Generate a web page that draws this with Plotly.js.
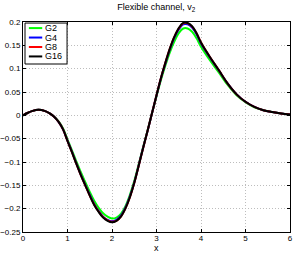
<!DOCTYPE html>
<html>
<head>
<meta charset="utf-8">
<script src="https://cdn.plot.ly/plotly-3.0.1.min.js"></script>
<style>html,body{margin:0;padding:0;background:#fff;}#chart{width:295px;height:254px;}</style>
</head>
<body>
<div id="chart"></div>
<script>
const xs = [0,0.1,0.2,0.35,0.5,0.6,0.7,0.8,0.9,1.0,1.1,1.2,1.3,1.4,1.5,1.6,1.7,1.8,1.9,2.0,2.1,2.2,2.3,2.4,2.5,2.6,2.7,2.8,2.9,3.0,3.1,3.2,3.3,3.4,3.5,3.6,3.7,3.8,3.9,4.0,4.2,4.4,4.6,4.8,5.0,5.2,5.4,5.6,5.8,6.0];
const g2 = [0,0.005,0.009,0.012,0.009,0.004,-0.003,-0.013,-0.028,-0.052,-0.075,-0.099,-0.122,-0.143,-0.164,-0.183,-0.198,-0.210,-0.217,-0.221,-0.219,-0.211,-0.195,-0.171,-0.141,-0.105,-0.068,-0.032,0.005,0.041,0.076,0.107,0.135,0.158,0.176,0.186,0.186,0.179,0.165,0.147,0.118,0.092,0.065,0.043,0.028,0.017,0.011,0.007,0.004,0.002];
const g4 = [0,0.005,0.009,0.012,0.009,0.004,-0.003,-0.014,-0.03,-0.054,-0.078,-0.103,-0.127,-0.149,-0.17,-0.19,-0.205,-0.217,-0.224,-0.227,-0.224,-0.215,-0.198,-0.174,-0.144,-0.107,-0.069,-0.033,0.005,0.042,0.079,0.111,0.141,0.166,0.184,0.195,0.195,0.188,0.174,0.154,0.124,0.096,0.068,0.045,0.029,0.018,0.011,0.007,0.004,0.002];
const g8 = [0,0.005,0.009,0.012,0.009,0.004,-0.003,-0.014,-0.03,-0.055,-0.079,-0.104,-0.128,-0.15,-0.172,-0.191,-0.206,-0.218,-0.225,-0.228,-0.226,-0.217,-0.2,-0.176,-0.145,-0.108,-0.07,-0.033,0.005,0.043,0.08,0.113,0.143,0.168,0.186,0.197,0.197,0.19,0.176,0.156,0.125,0.097,0.068,0.045,0.029,0.018,0.011,0.007,0.004,0.002];
const g16 = [0,0.005,0.009,0.012,0.009,0.004,-0.003,-0.014,-0.03,-0.055,-0.079,-0.104,-0.128,-0.15,-0.172,-0.192,-0.207,-0.219,-0.226,-0.229,-0.226,-0.217,-0.2,-0.176,-0.145,-0.108,-0.07,-0.033,0.005,0.043,0.08,0.113,0.143,0.168,0.187,0.198,0.198,0.191,0.176,0.156,0.125,0.097,0.068,0.045,0.029,0.018,0.011,0.007,0.004,0.002];
const seriesNames = ['G2','G4','G8','G16'];
const seriesColors = ['#00ff00','#0000ff','#ff0000','#000000'];
const seriesData = [g2,g4,g8,g16];
const xTicks = [0,1,2,3,4,5,6];
const yTicks = [-0.25,-0.2,-0.15,-0.1,-0.05,0,0.05,0.1,0.15,0.2];

const FAM = 'Liberation Sans, Arial, sans-serif';
const traces = seriesData.map((ys,i)=>({
  x: xs, y: ys, type:'scatter', mode:'lines', name: seriesNames[i], showlegend:false,
  line:{color: seriesColors[i], width:2, shape:'spline', smoothing:1}
}));

// legend drawn in paper coordinates (box, line samples, labels)
const shapes = [{type:'rect', xref:'paper', yref:'paper', x0:0.0075, x1:0.165, y0:0.80, y1:0.995,
  fillcolor:'#fff', line:{color:'#000', width:1}, layer:'above'}];
const annotations = [];
const legTop = 0.971, legStep = 0.045;
seriesNames.forEach((n,i)=>{
  const yy = legTop - i*legStep;
  shapes.push({type:'line', xref:'paper', yref:'paper', x0:0.022, x1:0.072, y0:yy, y1:yy,
    line:{color:seriesColors[i], width:2}, layer:'above'});
  annotations.push({xref:'paper', yref:'paper', x:0.076, y:yy, xanchor:'left', yanchor:'middle',
    text:n, showarrow:false, font:{family:FAM, size:9, color:'#000'}});
});
annotations.push({xref:'paper', yref:'paper', x:0.5, y:-0.078, xanchor:'center', yanchor:'middle',
  text:'x', showarrow:false, font:{family:FAM, size:9, color:'#000'}});

const layout = {
  width:295, height:254,
  margin:{l:23,r:5,t:22,b:22,pad:0},
  paper_bgcolor:'#fff', plot_bgcolor:'#fff',
  font:{family:FAM, size:8, color:'#000'},
  title:{text:'Flexible channel, v<sub>2</sub>', font:{family:FAM,size:9,color:'#000'}, x:0.53, xanchor:'center', y:0.985, yanchor:'top'},
  xaxis:{range:[0,6], tickvals:xTicks, ticks:'inside', ticklen:3, tickcolor:'#000',
    showline:true, linecolor:'#000', linewidth:1, mirror:'ticks',
    showgrid:true, gridcolor:'#bdbdbd', griddash:'1px,2px', gridwidth:1, zeroline:false,
    ticklabelstandoff:-2,
    tickfont:{family:FAM,size:8,color:'#000'}},
  yaxis:{range:[-0.25,0.2], tickvals:yTicks, ticks:'inside', ticklen:3, tickcolor:'#000',
    showline:true, linecolor:'#000', linewidth:1, mirror:'ticks',
    showgrid:true, gridcolor:'#bdbdbd', griddash:'1px,2px', gridwidth:1, zeroline:false,
    tickfont:{family:FAM,size:8,color:'#000'}},
  shapes: shapes,
  annotations: annotations
};
Plotly.newPlot('chart', traces, layout, {staticPlot:true, displayModeBar:false});
</script>
</body>
</html>
